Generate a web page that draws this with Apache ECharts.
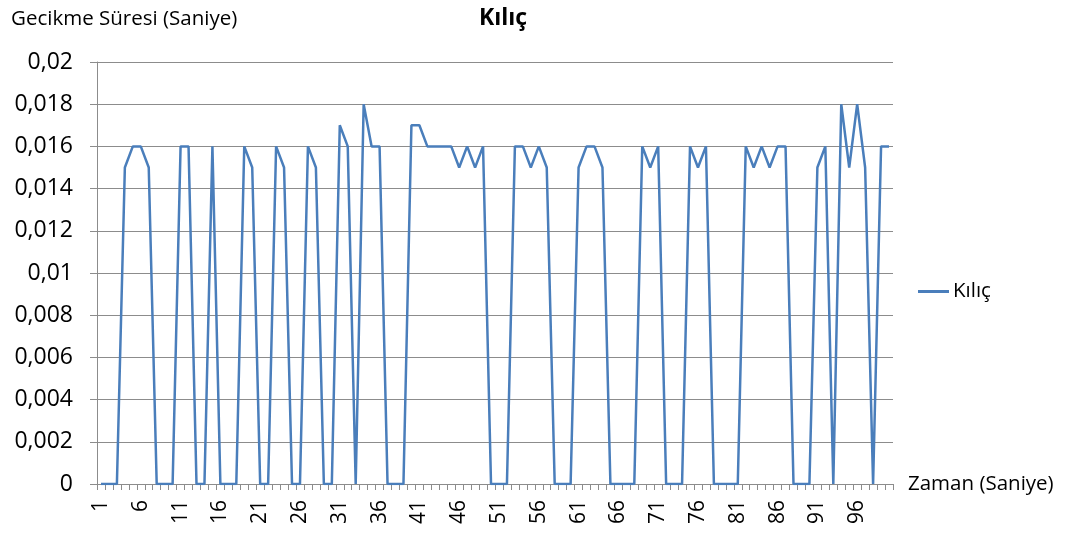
<!DOCTYPE html>
<html>
<head>
<meta charset="utf-8">
<script src="https://cdn.jsdelivr.net/npm/echarts@6/dist/echarts.min.js"></script>
<style>
    html, body { margin: 0; padding: 0; background: #fff; }
    #line-box { width: 1078px; height: 533px; }
</style>
</head>
<body>
<div id="line-box"></div>
<script>
    // x axis: seconds 1..100
    var zamanList = Array.from({ length: 100 }, function (_, i) { return String(i + 1); });

    // gecikme suresi (s)
    var kilicData = [
        0, 0, 0, 0.015, 0.016, 0.016, 0.015, 0, 0, 0,
        0.016, 0.016, 0, 0, 0.016, 0, 0, 0, 0.016, 0.015,
        0, 0, 0.016, 0.015, 0, 0, 0.016, 0.015, 0, 0,
        0.017, 0.016, 0, 0.018, 0.016, 0.016, 0, 0, 0, 0.017,
        0.017, 0.016, 0.016, 0.016, 0.016, 0.015, 0.016, 0.015, 0.016, 0,
        0, 0, 0.016, 0.016, 0.015, 0.016, 0.015, 0, 0, 0,
        0.015, 0.016, 0.016, 0.015, 0, 0, 0, 0, 0.016, 0.015,
        0.016, 0, 0, 0, 0.016, 0.015, 0.016, 0, 0, 0,
        0, 0.016, 0.015, 0.016, 0.015, 0.016, 0.016, 0, 0, 0,
        0.015, 0.016, 0, 0.018, 0.015, 0.018, 0.015, 0, 0.016, 0.016
    ];

    var font = 'Open Sans';
    var gridColor = '#8c8c8c';

    var myChart = echarts.init(document.getElementById('line-box'), null, { renderer: 'canvas' });

    var option = {
        animation: false,
        textStyle: { fontFamily: font, color: '#000' },
        title: {
            text: 'Kılıç',
            left: 474,
            top: 2,
            textStyle: { fontFamily: font, fontSize: 23, fontWeight: 'bold', color: '#000' }
        },
        graphic: [{
            type: 'text',
            left: 11,
            top: 9,
            style: { text: 'Gecikme Süresi (Saniye)', font: '20.5px "Open Sans"', fill: '#000' }
        }],
        legend: {
            data: ['Kılıç'],
            orient: 'vertical',
            left: 913,
            top: 276,
            icon: 'rect',
            itemWidth: 31,
            itemHeight: 3,
            textStyle: { fontFamily: font, fontSize: 20.5, color: '#000', padding: [0, 0, 0, -1] }
        },
        grid: {
            left: 97,
            right: 185,
            top: 62,
            bottom: 49,
            containLabel: false
        },
        xAxis: {
            type: 'category',
            boundaryGap: true,
            data: zamanList,
            name: 'Zaman (Saniye)',
            nameLocation: 'end',
            nameGap: 15,
            nameTextStyle: { fontFamily: font, fontSize: 20.5, color: '#000', verticalAlign: 'middle', padding: [4, 0, 0, 0] },
            axisLine: { lineStyle: { color: gridColor, width: 1 } },
            axisTick: { show: true, interval: 0, length: 6, lineStyle: { color: gridColor } },
            axisLabel: {
                interval: 4,
                rotate: 90,
                margin: 16,
                fontFamily: font,
                fontSize: 21,
                color: '#000'
            }
        },
        yAxis: {
            type: 'value',
            min: 0,
            max: 0.02,
            interval: 0.002,
            axisLine: { show: true, lineStyle: { color: gridColor, width: 1 } },
            axisTick: { show: true, length: 7, lineStyle: { color: gridColor } },
            splitLine: { lineStyle: { color: gridColor, width: 1 } },
            axisLabel: {
                margin: 24,
                fontFamily: font,
                fontSize: 23,
                color: '#000',
                formatter: function (v) {
                    return String(Number(v.toFixed(3))).replace('.', ',');
                }
            }
        },
        series: [{
            name: 'Kılıç',
            type: 'line',
            data: kilicData,
            showSymbol: false,
            symbol: 'none',
            lineStyle: { color: '#4a7ebb', width: 2.5 },
            itemStyle: { color: '#4a7ebb' }
        }]
    };

    myChart.setOption(option, true);
</script>
</body>
</html>
